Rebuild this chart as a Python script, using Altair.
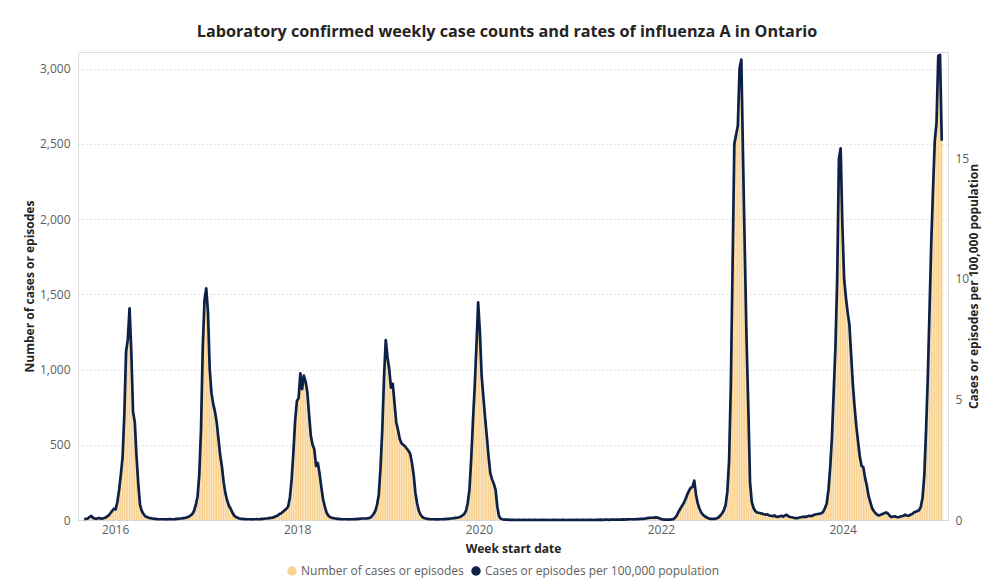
import altair as alt
import pandas as pd

# ---------------- data (weekly laboratory-confirmed influenza A, Ontario) ----------------
first_week = "2015-08-30"

season_2015_16 = [5, 8, 10, 20, 28, 15, 10, 8, 12, 12, 8, 12, 15, 22, 30, 45,
                  60, 75, 70, 120, 200, 300, 420, 700, 1120, 1200,
                  1407, 1120, 720, 650, 420, 240, 100, 60, 40, 25,
                  20, 15, 12, 10, 8, 8, 6, 5, 5, 5, 5, 4, 5, 6, 5, 5, 6, 8, 8, 10]
season_2016_17 = [10, 12, 14, 18, 22, 30, 40, 60, 100, 155, 300, 600, 1150, 1460,
                  1540, 1380, 1000, 843, 770, 720, 650, 540, 430, 354, 250, 177, 130, 95, 75, 50, 30, 20, 15, 10,
                  8, 7, 6, 5, 5, 5, 4, 5, 5, 6, 5, 6, 8, 8, 10, 10, 12, 14]
season_2017_18 = [15, 20, 25, 30, 40, 45, 55, 65, 75, 90,
                  150, 270, 450, 660, 790, 810, 975, 870, 960, 920, 850, 700,
                  560, 500, 470, 360, 380, 310, 220, 140, 90, 50, 30, 20, 15,
                  12, 10, 8, 7, 6, 5, 5, 5, 5, 4, 5, 5, 6, 6, 8, 8, 10, 10, 10]
season_2018_19 = [10, 12, 15, 25, 40, 60, 100, 170, 350, 600, 950,
                  1195, 1080, 1000, 880, 905, 780, 650, 600, 540, 510, 500, 490, 475, 460, 440, 380, 300,
                  180, 110, 60, 35, 20, 13, 10, 8, 6, 5,
                  5, 5, 4, 4, 5, 5, 6, 6, 8, 8, 10, 10, 12, 14]
season_2019_20 = [15, 18, 22, 30, 40, 60, 110, 200, 400, 650, 880, 1150,
                  1447, 1250, 960, 820, 680, 553, 420, 310, 270, 240, 200, 88, 25, 8]
pandemic_2020_22 = [5, 3, 2, 2, 1, 1, 1, 1, 0, 1,
                    1, 0, 1, 1, 0, 1, 1, 0, 1, 1,
                    0, 1, 0, 1, 1, 0, 1, 0, 0, 1,
                    1, 0, 1, 0, 1, 1, 0, 0, 1, 0,
                    1, 0, 1, 1, 0, 1, 1, 1, 0, 1,
                    1, 1, 0, 1, 1, 1, 2, 1, 1, 2,
                    2, 1, 2, 2, 2, 3, 2, 3, 3, 4,
                    3, 4, 4, 5, 5, 4, 5, 6, 6, 7,
                    7,
                    8, 10, 12, 14, 15, 15, 16, 17, 16, 12, 6, 4, 3, 2, 2, 3, 4]
season_2022_23 = [5, 15, 30, 55, 75, 95, 113, 140, 170, 195, 215, 220,
                  262, 170, 110, 75, 50, 35, 25, 18, 12, 8, 7, 7, 8, 12, 18, 30, 45, 65, 100, 190, 400,
                  900, 1700, 2500, 2560, 2620, 3000, 3060, 2400, 1790, 1200, 750, 250, 120, 80, 60, 50,
                  48, 45, 42, 38, 35, 38, 30, 28, 25, 30, 22, 20, 25, 28, 22, 30, 35, 25, 20, 18,
                  15, 12, 12, 15, 18, 20, 22, 20, 25, 28, 25, 30, 35, 38, 40, 42]
season_2023_25 = [45, 55, 80, 110, 200, 350, 550, 850, 1150, 1600, 2400, 2470, 1950, 1600, 1480,
                  1380, 1300, 1100, 900, 750, 620, 520, 420, 360, 350, 280, 230, 160, 120, 80, 60, 45, 35,
                  30, 35, 40, 45, 50, 45, 30, 20, 22, 25, 20, 18, 22, 25, 28, 35, 30, 28, 35, 40,
                  50, 55, 60, 65, 88, 150, 300, 600, 950, 1400, 1850, 2200, 2520, 2640, 3085, 3090, 2520]

ontario_population = 16_020_000

series_names = ["Number of cases or episodes", "Cases or episodes per 100,000 population"]
series_colors = ["#F9D291", "#0C2048"]
case_ticks = [0, 500, 1000, 1500, 2000, 2500, 3000]
rate_ticks = [0, 5, 10, 15]
tick_years = [2016, 2018, 2020, 2022, 2024]

cases = (season_2015_16 + season_2016_17 + season_2017_18 + season_2018_19 +
         season_2019_20 + pandemic_2020_22 + season_2022_23 + season_2023_25)
weeks = pd.date_range(first_week, periods=len(cases), freq="7D")
df = pd.DataFrame({"week": weeks, "cases": cases, "series": series_names[0]})

case_max = 3110
rate_max = case_max * 100000 / ontario_population

d0 = weeks[0] - pd.Timedelta(days=5)
d1 = weeks[-1] + pd.Timedelta(days=5)
x_domain = [alt.DateTime(year=d0.year, month=d0.month, date=d0.day),
            alt.DateTime(year=d1.year, month=d1.month, date=d1.day)]

FONT = "Open Sans"
GRAY = "#605E5C"
DARK = "#252423"

x_enc = alt.X(
    "week:T",
    title="Week start date",
    scale=alt.Scale(domain=x_domain),
    axis=alt.Axis(
        values=[alt.DateTime(year=y, month=1, date=1) for y in tick_years],
        format="%Y", grid=False, domain=False, ticks=False,
        labelPadding=4, labelFontSize=12, labelColor=GRAY, labelFont=FONT,
        titleFontSize=12, titleFontWeight="bold", titleColor=DARK, titleFont=FONT,
        titlePadding=8,
    ),
)

bars = alt.Chart(df).mark_bar(width=1.5).encode(
    x=x_enc,
    y=alt.Y(
        "cases:Q",
        scale=alt.Scale(domain=[0, case_max], nice=False),
        axis=alt.Axis(
            values=case_ticks, format=",.0f", title="Number of cases or episodes",
            grid=True, gridDash=[1, 3], gridColor="#C8C6C4", gridWidth=1,
            domain=False, ticks=False, labelPadding=8,
            labelFontSize=12, labelColor=GRAY, labelFont=FONT,
            titleFontSize=12, titleFontWeight="bold", titleColor=DARK, titleFont=FONT,
            titlePadding=3,
        ),
    ),
    color=alt.Color(
        "series:N",
        scale=alt.Scale(domain=series_names, range=series_colors),
        legend=alt.Legend(
            title=None, orient="none", direction="horizontal",
            legendX=208, legendY=513,
            symbolType="circle", symbolSize=90, symbolStrokeWidth=0,
            labelFontSize=12, labelColor=GRAY, labelFont=FONT, labelLimit=0,
            labelOffset=3, columnPadding=6,
        ),
    ),
)

line = alt.Chart(df).transform_calculate(
    rate=f"datum.cases * 100000 / {ontario_population}"
).mark_line(color=series_colors[1], strokeWidth=2.7, strokeJoin="round").encode(
    x=x_enc,
    y=alt.Y(
        "rate:Q",
        scale=alt.Scale(domain=[0, rate_max], nice=False),
        axis=alt.Axis(
            orient="right", values=rate_ticks, title="Cases or episodes per 100,000 population",
            grid=False, domain=False, ticks=False, labelPadding=7,
            labelFontSize=12, labelColor=GRAY, labelFont=FONT,
            titleFontSize=12, titleFontWeight="bold", titleColor=DARK, titleFont=FONT,
            titleAngle=270, titlePadding=12,
        ),
    ),
)

chart = alt.layer(bars, line).resolve_scale(y="independent").properties(
    width=870,
    height=468,
    autosize=alt.AutoSizeParams(type="none"),
    padding={"left": 70, "top": 44, "right": 42, "bottom": 59},
    title=alt.TitleParams(
        "Laboratory confirmed weekly case counts and rates of influenza A in Ontario",
        fontSize=16.2, fontWeight="bold", font=FONT, color=DARK,
        anchor="middle", offset=12, dx=-6,
    ),
).configure_view(stroke=None).configure(background="white")

chart.save("out.html", embed_options={"renderer": "svg", "actions": False})
